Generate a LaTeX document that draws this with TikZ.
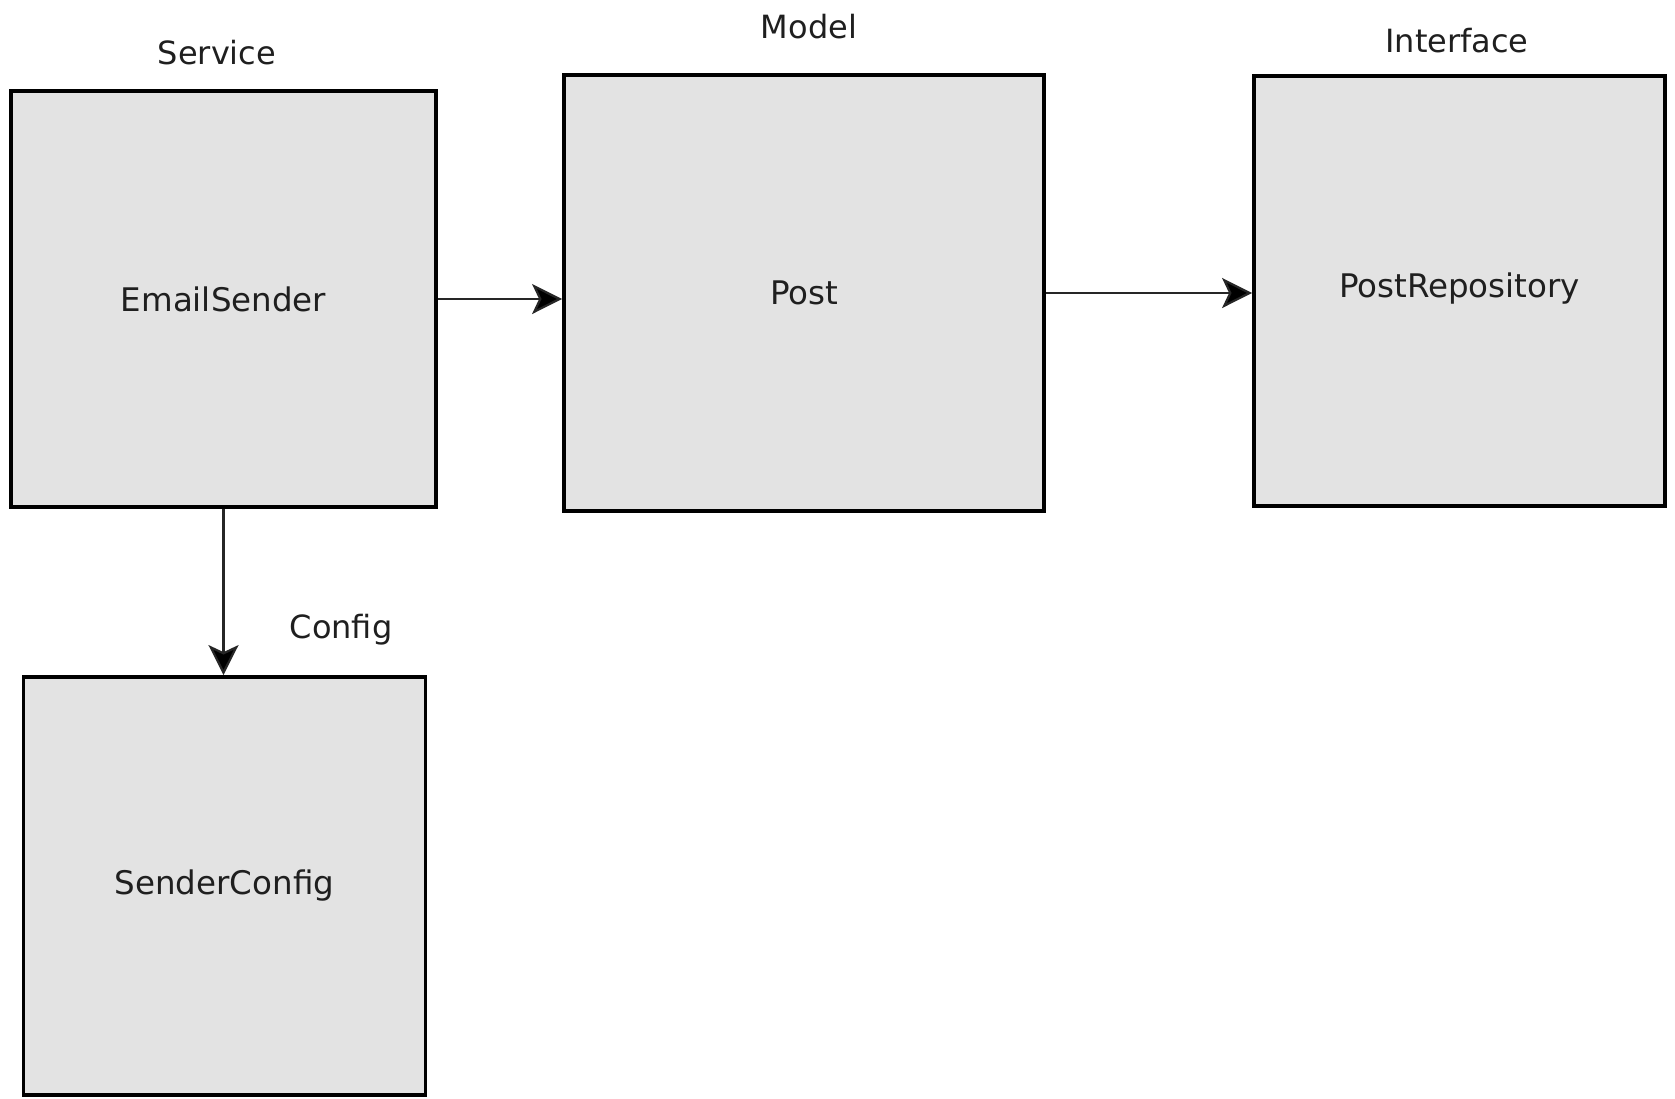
\documentclass[tikz,border=0pt]{standalone}
\usepackage{fontspec}
\setmainfont{DejaVu Sans}
\usetikzlibrary{arrows.meta}
\begin{document}
\begin{tikzpicture}[x=1pt,y=-1pt,
  box/.style={draw=black, line width=3.8pt, fill=boxgray, rectangle, inner sep=0pt,
    font=\fontsize{32.5}{38}\selectfont, text=black!88},
  caption/.style={font=\fontsize{32}{38}\selectfont, text=black!88, inner sep=0pt},
  conn/.style={draw=black!85, line width=2.2pt, -{Stealth[length=30pt,width=30pt,inset=7pt,fill=black]}}]
\definecolor{boxgray}{HTML}{E3E3E3}
\useasboundingbox (0,0) rectangle (1675,1098);
\node[box, minimum width=425pt, minimum height=416pt] (es) at (223.5,299) {EmailSender};
\node[box, minimum width=480pt, minimum height=436pt] (post) at (804,293) {Post};
\node[box, minimum width=411pt, minimum height=430pt] (repo) at (1459.5,291) {\raisebox{12pt}{PostRepository}};
\node[box, minimum width=402pt, minimum height=418pt] (sc) at (224.5,886) {SenderConfig};
\node[caption] (lservice) at (217,53) {Service};
\node[caption] (lmodel) at (809,27) {Model};
\node[caption] (linterface) at (1457,41) {Interface};
\node[caption] (lconfig) at (341,630) {Config};
\draw[conn] (es.east) -- (es.east -| post.west);
\draw[conn] (post.east) -- (post.east -| repo.west);
\draw[conn] (es.south) -- (es.south |- sc.north);
\end{tikzpicture}
\end{document}
